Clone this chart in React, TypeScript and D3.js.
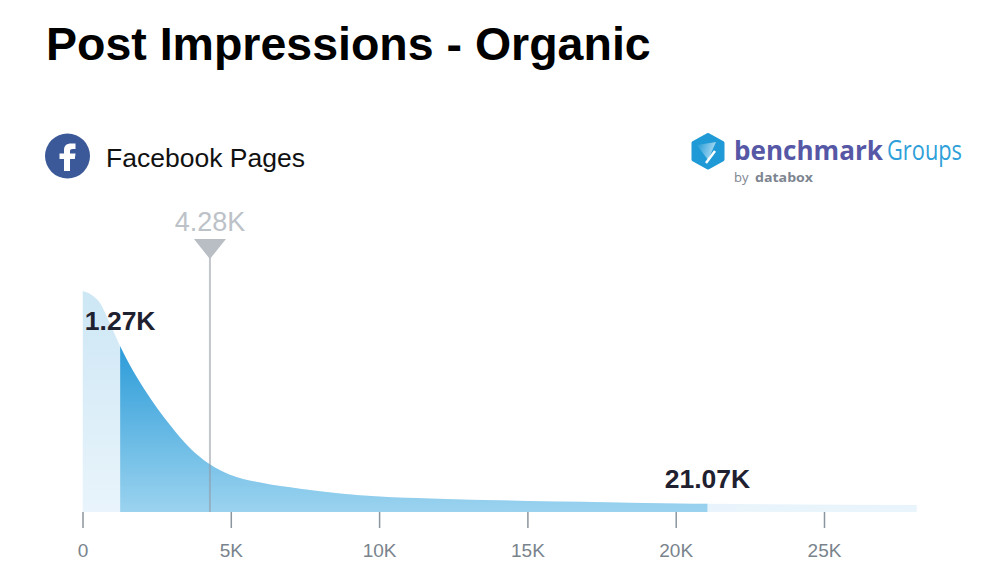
import React, { useEffect, useRef } from 'react';
import * as d3 from 'd3';

// impressions in thousands, density as % of the peak
const impressions = [0, 0.31, 0.59, 0.87, 1.27, 2.1, 2.95, 3.62, 4.28, 4.97, 6, 7.33, 8.68, 10, 11.7, 15, 16.8, 20, 21.07, 28.13];
const density = [100, 98.2, 94.6, 87, 75, 55.2, 39.4, 29, 21.7, 16.9, 13.3, 10.5, 8.4, 7, 6.1, 5, 4.6, 3.85, 3.7, 3.2];
const tickValues = [0, 5, 10, 15, 20, 25];
const tickLabels = ['0', '5K', '10K', '15K', '20K', '25K'];
const lowBound = 1.27;
const highBound = 21.07;
const median = 4.28;
const lowLabel = '1.27K';
const highLabel = '21.07K';
const medianLabel = '4.28K';

const width = 1000;
const height = 563;
const sans = '"Liberation Sans", Arial, sans-serif';

const App = () => {
    const ref = useRef<SVGSVGElement>(null);

    useEffect(() => {
        const svg = d3.select(ref.current);
        svg.selectAll('*').remove();

        const x = d3.scaleLinear().domain([0, 25]).range([82.5, 824]);
        const y = d3.scaleLinear().domain([0, 100]).range([512, 291]);
        const points = impressions.map((v, i) => [v, density[i]] as [number, number]);

        const defs = svg.append('defs');
        const addGradient = (id: string, top: string, bottom: string, y1: number, y2: number) => {
            const g = defs.append('linearGradient').attr('id', id)
                .attr('gradientUnits', 'userSpaceOnUse')
                .attr('x1', 0).attr('x2', 0).attr('y1', y1).attr('y2', y2);
            g.append('stop').attr('offset', 0).attr('stop-color', top);
            g.append('stop').attr('offset', 1).attr('stop-color', bottom);
        };
        addGradient('dark', '#2b9bd8', '#9bd3ef', 345, 512);
        addGradient('light', '#cde7f5', '#e9f4fb', 291, 512);

        const shine = defs.append('linearGradient').attr('id', 'shine')
            .attr('x1', 0).attr('x2', 1).attr('y1', 0).attr('y2', 0.3);
        shine.append('stop').attr('offset', 0).attr('stop-color', '#1f9ad6');
        shine.append('stop').attr('offset', 1).attr('stop-color', '#a9d9f2');

        const clip = (id: string, from: number, to: number) => {
            defs.append('clipPath').attr('id', id).append('rect')
                .attr('x', x(from)).attr('y', 0)
                .attr('width', x(to) - x(from)).attr('height', height);
        };
        clip('clip-all', 0, impressions[impressions.length - 1]);
        clip('clip-mid', lowBound, highBound);

        const area = d3.area<[number, number]>()
            .x(d => x(d[0]))
            .y0(y(0))
            .y1(d => y(d[1]))
            .curve(d3.curveMonotoneX);

        svg.append('path').datum(points).attr('d', area).attr('fill', 'url(#light)').attr('clip-path', 'url(#clip-all)');
        svg.append('path').datum(points).attr('d', area).attr('fill', 'url(#dark)').attr('clip-path', 'url(#clip-mid)');

        // x axis
        const axis = d3.axisBottom(x)
            .tickValues(tickValues)
            .tickFormat((_, i) => tickLabels[i])
            .tickSize(16)
            .tickPadding(16);
        const gAxis = svg.append('g').attr('transform', 'translate(0, 512)').call(axis);
        gAxis.select('.domain').remove();
        gAxis.selectAll('line').attr('stroke', '#8b959e').attr('stroke-width', 1.5);
        gAxis.selectAll('text')
            .attr('fill', '#79838c')
            .attr('font-family', sans)
            .attr('font-size', 19);

        // median marker
        const mx = x(median) + 0.5;
        svg.append('line').attr('x1', mx).attr('x2', mx).attr('y1', 255).attr('y2', 512)
            .attr('stroke', '#8f98a2').attr('stroke-opacity', 0.55).attr('stroke-width', 2);
        svg.append('path')
            .attr('d', `M${mx - 16},239 H${mx + 16} L${mx},259 Z`)
            .attr('fill', '#b8bec4');
        svg.append('text').attr('x', mx).attr('y', 231).attr('text-anchor', 'middle')
            .attr('font-family', sans).attr('font-size', 27).attr('fill', '#bcc2c8')
            .text(medianLabel);

        // range labels
        svg.append('text').attr('x', x(lowBound)).attr('y', 330).attr('text-anchor', 'middle')
            .attr('font-family', sans).attr('font-weight', 700).attr('font-size', 26.5).attr('fill', '#1f2130')
            .text(lowLabel);
        svg.append('text').attr('x', x(highBound)).attr('y', 488).attr('text-anchor', 'middle')
            .attr('font-family', sans).attr('font-weight', 700).attr('font-size', 26.5).attr('fill', '#1f2130')
            .text(highLabel);

        // heading
        svg.append('text').attr('x', 46).attr('y', 60)
            .attr('font-family', sans).attr('font-weight', 700).attr('font-size', 46.5).attr('fill', '#000')
            .text('Post Impressions - Organic');
        svg.append('circle').attr('cx', 67.5).attr('cy', 156).attr('r', 22.5).attr('fill', '#3b5998');
        svg.append('path')
            .attr('d', 'M64,171 V159 H59.5 V153.500 H64 V150 C64,145.500 67,143.500 71,143.500 H75.500 V149 H72.500 C70.800,149 70,149.800 70,151 V153.500 H75.500 L74.800,159 H70 V171 Z')
            .attr('fill', '#fff');
        svg.append('text').attr('x', 106).attr('y', 167)
            .attr('font-family', sans).attr('font-size', 26.5).attr('fill', '#111')
            .text('Facebook Pages');

        // benchmark logo
        svg.append('path')
            .attr('d', 'M708,135 L722.500,143 V159.500 L708,167.500 L693.500,159.500 V143 Z')
            .attr('fill', '#1f9ad6').attr('stroke', '#1f9ad6').attr('stroke-width', 4).attr('stroke-linejoin', 'round');
        svg.append('path').attr('d', 'M697,145 L716,142 L708,160 Z').attr('fill', 'url(#shine)');
        svg.append('path').attr('d', 'M706,163 L715,151').attr('stroke', '#fff').attr('stroke-width', 2.5);
        svg.append('text').attr('x', 734).attr('y', 160)
            .attr('font-family', '"Open Sans", sans-serif').attr('font-weight', 700).attr('font-size', 27).attr('fill', '#5658a6')
            .attr('textLength', 149).attr('lengthAdjust', 'spacingAndGlyphs')
            .text('benchmark');
        svg.append('text').attr('x', 887).attr('y', 160)
            .attr('font-family', '"Open Sans", sans-serif').attr('font-size', 27).attr('fill', '#2f9fd9')
            .attr('textLength', 75).attr('lengthAdjust', 'spacingAndGlyphs')
            .text('Groups');
        svg.append('text').attr('x', 734).attr('y', 182)
            .attr('font-family', '"Open Sans", sans-serif').attr('font-size', 13).attr('fill', '#7d8590')
            .text('by');
        svg.append('text').attr('x', 755).attr('y', 182)
            .attr('font-family', '"Open Sans", sans-serif').attr('font-weight', 700).attr('font-size', 13).attr('fill', '#7d8590')
            .attr('textLength', 58).attr('lengthAdjust', 'spacingAndGlyphs')
            .text('databox');
    }, []);

    return (
        <svg ref={ref} width={width} height={height}
            style={{ position: 'absolute', top: 0, left: 0, background: '#fff' }} />
    );
};

export default App;
